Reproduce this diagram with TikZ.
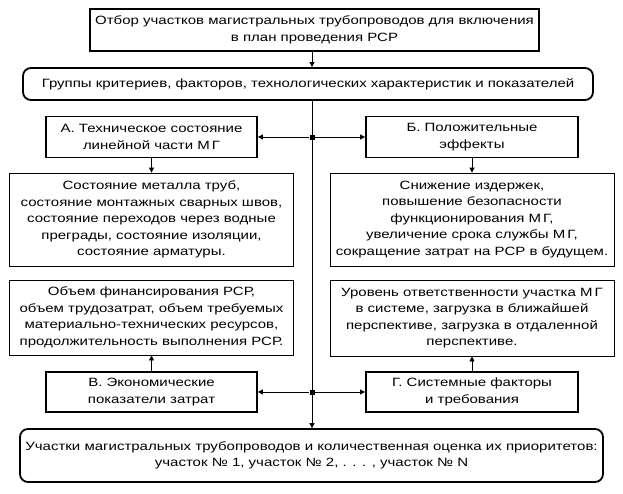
\documentclass[tikz,border=0pt]{standalone}
\usepackage{fontspec}
\setmainfont{Liberation Sans}[FakeStretch=1.25]
\usetikzlibrary{arrows.meta}

\begin{document}
\begin{tikzpicture}[x=1pt,y=-1pt,
    font=\fontsize{12}{16.5}\selectfont,
    headbox/.style={draw,line width=1.8pt,align=center,inner sep=0pt},
    roundbox/.style={headbox,rounded corners=8pt},
    listbox/.style={draw,line width=0.9pt,align=center,inner sep=0pt,
        minimum width=284pt},
    jdot/.style={fill,rectangle,inner sep=0pt,minimum size=5pt},
    link/.style={-{Triangle[length=5pt,width=5pt]},line width=0.9pt}]
% Frame
\useasboundingbox (0,0) rectangle (623,493);

% Title and criteria groups
\node[headbox,minimum width=449pt,minimum height=42pt] (top) at (314.5,30)
    {Отбор участков магистральных трубопроводов для включения\\в план проведения РСР};
\node[roundbox,minimum width=570pt,minimum height=32pt] (groups) at (308,84)
    {Группы критериев, факторов, технологических характеристик и показателей};

% Junctions on the main line
\node[jdot] (j1) at (312,137) {};
\node[jdot] (j2) at (312,392) {};

% Upper groups
\node[headbox,minimum width=211pt,minimum height=41pt] (tech) at (151.5,137)
    {А. Техническое состояние\\линейной части М\,Г};
\node[headbox,minimum width=212pt,minimum height=41pt] (gain) at (472,137)
    {Б. Положительные\\эффекты};
\node[listbox,minimum height=93pt] (techlist) at (151.5,219.5)
    {Состояние металла труб,\\состояние монтажных сварных швов,\\состояние переходов через водные\\преграды, состояние изоляции,\\состояние арматуры.};
\node[listbox,minimum height=93pt] (gainlist) at (472,219.5)
    {Снижение издержек,\\повышение безопасности\\функционирования М\,Г,\\увеличение срока службы М\,Г,\\сокращение затрат на РСР в будущем.};

% Lower groups
\node[listbox,minimum height=75pt] (costlist) at (151.5,317.5)
    {Объем финансирования РСР,\\объем трудозатрат, объем требуемых\\материально-технических ресурсов,\\продолжительность выполнения РСР.};
\node[listbox,minimum height=76pt] (syslist) at (472,318)
    {Уровень ответственности участка М\,Г\\в системе, загрузка в ближайшей\\перспективе, загрузка в отдаленной\\перспективе.};
\node[headbox,minimum width=211pt,minimum height=40pt] (cost) at (151.5,392)
    {В. Экономические\\показатели затрат};
\node[headbox,minimum width=212pt,minimum height=40pt] (sys) at (472,392)
    {Г. Системные факторы\\и требования};

% Result
\node[roundbox,minimum width=583pt,minimum height=53pt] (result) at (311.5,455.5)
    {Участки магистральных трубопроводов и количественная оценка их приоритетов:\\участок № 1, участок № 2, . . . , участок № N};

% Connectors
\draw[link] (top.south -| j1) -- (groups.north -| j1);
\draw[link] (groups.south -| j1) -- (result.north -| j1);
\draw[link] (j1) -- (j1 -| tech.east);
\draw[link] (j1) -- (j1 -| gain.west);
\draw[link] (j2) -- (j2 -| cost.east);
\draw[link] (j2) -- (j2 -| sys.west);
\draw[link] (tech) -- (techlist);
\draw[link] (gain) -- (gainlist);
\draw[link] (cost) -- (costlist);
\draw[link] (sys) -- (syslist);

\end{tikzpicture}
\end{document}
